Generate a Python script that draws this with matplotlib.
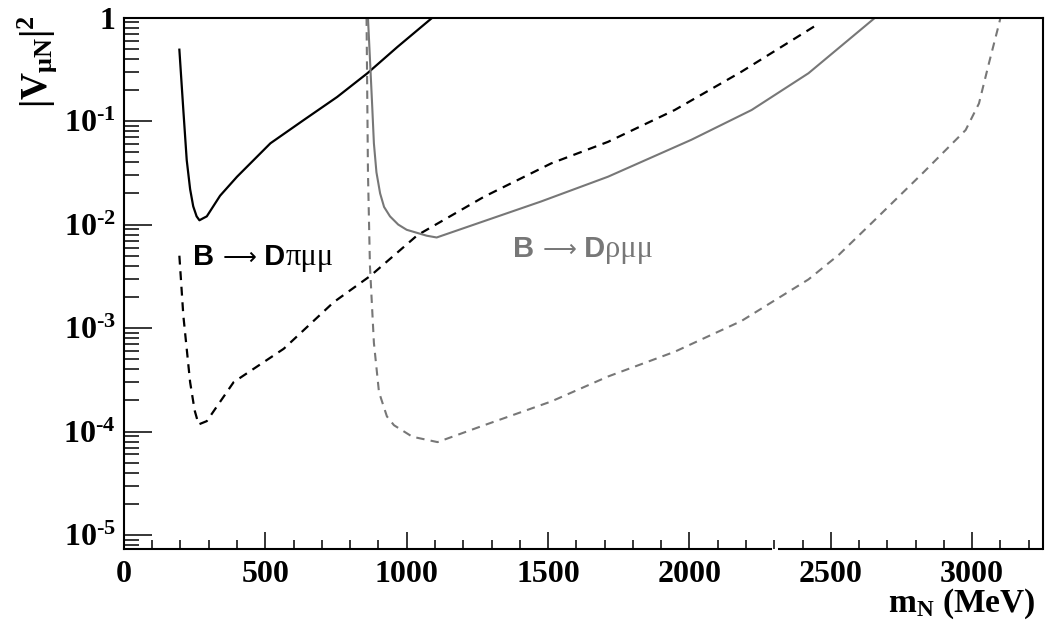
import matplotlib
matplotlib.use('Agg')
import matplotlib.pyplot as plt
from matplotlib.ticker import MultipleLocator, LogLocator, NullFormatter, FuncFormatter
from matplotlib.offsetbox import TextArea, HPacker, AnnotationBbox
import numpy as np

plt.rcParams['font.family'] = 'Liberation Serif'
plt.rcParams['font.weight'] = 'bold'
plt.rcParams['axes.unicode_minus'] = False
plt.rcParams['mathtext.fontset'] = 'custom'
plt.rcParams['mathtext.rm'] = 'Liberation Serif:bold'
plt.rcParams['mathtext.it'] = 'Liberation Serif:bold'
plt.rcParams['mathtext.bf'] = 'Liberation Serif:bold'

# B -> D pi mu mu, solid
pi_solid_m = [196, 203, 210, 222, 234, 245, 257, 267, 280, 293, 340, 400, 518, 635, 754, 861, 967, 1091]
pi_solid_v = [0.49, 0.25, 0.128, 0.042, 0.022, 0.015, 0.012, 0.011, 0.0115, 0.012, 0.019, 0.029,
              0.061, 0.102, 0.171, 0.29, 0.52, 1.0]
# B -> D pi mu mu, dashed
pi_dash_m = [196, 210, 234, 250, 264, 293, 388, 565, 742, 872, 1038, 1274, 1511, 1712, 1948, 2184, 2456]
pi_dash_v = [5.0e-3, 1.32e-3, 3.0e-4, 1.6e-4, 1.17e-4, 1.26e-4, 3.0e-4, 6.3e-4, 1.78e-3, 3.2e-3,
             7.9e-3, 0.0186, 0.039, 0.063, 0.128, 0.30, 0.87]
# B -> D rho mu mu, solid
rho_solid_m = [863, 872, 878, 884, 893, 906, 920, 941, 970, 1000, 1071, 1106, 1475, 1712, 2007,
               2220, 2421, 2657]
rho_solid_v = [1.0, 0.31, 0.14, 0.061, 0.032, 0.020, 0.0148, 0.012, 0.010, 0.0089, 0.0078, 0.0075,
               0.0167, 0.029, 0.066, 0.128, 0.29, 1.0]
# B -> D rho mu mu, dashed
rho_dash_m = [858, 860, 863, 870, 884, 902, 930, 955, 1020, 1109, 1274, 1511, 1712, 1948, 2184,
              2421, 2530, 2650, 2828, 2977, 3024, 3059, 3095, 3100]
rho_dash_v = [1.0, 0.25, 0.032, 4.0e-3, 7.2e-4, 2.4e-4, 1.4e-4, 1.15e-4, 8.9e-5, 7.9e-5, 1.15e-4,
              1.95e-4, 3.4e-4, 5.9e-4, 1.17e-3, 2.95e-3, 5.15e-3, 0.0107, 0.032, 0.082, 0.148,
              0.36, 0.87, 1.0]

gray = '#777777'

fig = plt.figure(figsize=(10.46, 6.29), dpi=100)
ax = fig.add_axes([0.1185, 0.127, 0.8785, 0.845])
ax.set_yscale('log')

ax.plot(pi_solid_m, pi_solid_v, color='black', lw=1.6)
ax.plot(pi_dash_m, pi_dash_v, color='black', lw=1.6, ls=(0, (4, 3)))
ax.plot(rho_solid_m, rho_solid_v, color=gray, lw=1.5)
ax.plot(rho_dash_m, rho_dash_v, color=gray, lw=1.5, ls=(0, (4, 3)))

ax.set_xlim(0, 3250)
ax.set_ylim(7.3e-6, 1.0)

ax.xaxis.set_major_locator(MultipleLocator(500))
ax.xaxis.set_minor_locator(MultipleLocator(100))
ax.yaxis.set_major_locator(LogLocator(base=10, numticks=12))
ax.yaxis.set_minor_locator(LogLocator(base=10, subs=np.arange(2, 10), numticks=12))
ax.yaxis.set_minor_formatter(NullFormatter())


def ylab(v, pos):
    e = int(round(np.log10(v)))
    return '1' if e == 0 else r'$10^{\text{-%d}}$' % abs(e)


ax.yaxis.set_major_formatter(FuncFormatter(ylab))

ax.tick_params(which='both', direction='in', top=False, right=False, width=1.1)
ax.tick_params(axis='x', which='major', length=12, labelsize=23, pad=8)
ax.tick_params(axis='x', which='minor', length=6.5)
ax.tick_params(axis='y', which='major', length=20, labelsize=23, pad=6)
ax.tick_params(axis='y', which='minor', length=11)
for s in ax.spines.values():
    s.set_linewidth(1.5)

# small break in the bottom frame, as in the scanned original
ax.spines['bottom'].set_bounds(0, 2290)
ax.plot([2315, 3250], [0, 0], color='black', lw=1.5, clip_on=False,
        transform=ax.get_xaxis_transform(), solid_capstyle='butt')

fig.text(0.035, 0.975, r'$|V_{\mu N}|^{2}$', rotation=90, ha='center', va='top', fontsize=27)
fig.text(0.9895, 0.012, r'm$_{\mathrm{N}}$ (MeV)', ha='right', va='bottom', fontsize=24)


def reaction_label(x, y, meson, color):
    bold = dict(family='Liberation Sans', weight='bold', size=21, color=color)
    thin = dict(family='DejaVu Sans', weight='normal', size=17, color=color)
    serif = dict(family='Liberation Serif', weight='normal', size=22, color=color)
    parts = [TextArea('B ', textprops=bold), TextArea('\u27f6', textprops=thin),
             TextArea(' D', textprops=bold), TextArea(meson + '\u03bc\u03bc', textprops=serif)]
    box = HPacker(children=parts, align='baseline', pad=0, sep=0)
    ab = AnnotationBbox(box, (x, y), xycoords='data', box_alignment=(0, 0.5),
                        frameon=False, pad=0)
    ax.add_artist(ab)


reaction_label(244, 4.8e-3, '\u03c0', 'black')
reaction_label(1376, 5.8e-3, '\u03c1', gray)

fig.savefig('out.png', dpi=100)
